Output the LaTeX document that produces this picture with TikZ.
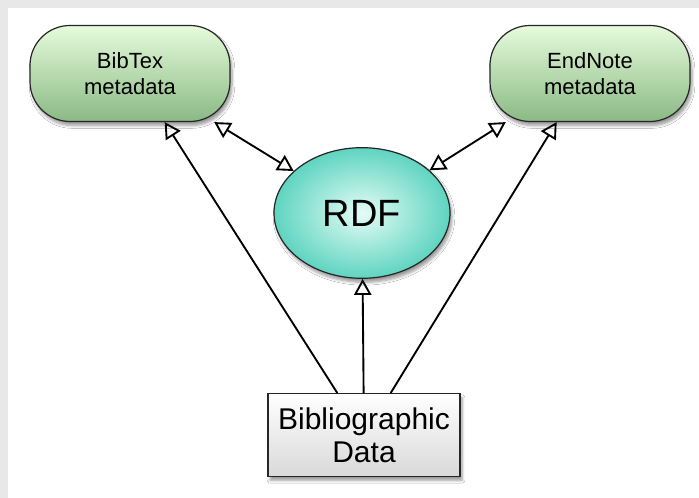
\documentclass[tikz,border=0pt]{standalone}
\usepackage{fontspec}
\setmainfont{Liberation Sans}
\usetikzlibrary{positioning, arrows.meta, shapes.geometric}
\usetikzlibrary{shadows.blur}

\definecolor{greentop}{RGB}{230,251,220}
\definecolor{greenmid}{RGB}{165,228,155}
\definecolor{greenbot}{RGB}{138,185,132}
\definecolor{tealin}{RGB}{228,252,246}
\definecolor{tealout}{RGB}{95,212,192}
\definecolor{framegray}{RGB}{232,232,232}

\begin{document}
\begin{tikzpicture}[
    x=0.75pt, y=0.75pt,
    every node/.style={align=center},
    meta/.style={rectangle, rounded corners=30pt, draw=black!85, line width=0.9pt,
        top color=greentop, middle color=greenmid, bottom color=greenbot,
        minimum width=150pt, minimum height=72pt, font=\fontsize{16.5}{19}\selectfont,
        blur shadow={shadow xshift=1.5pt, shadow yshift=-3pt, shadow blur steps=6}},
    store/.style={ellipse, draw=black!85, line width=0.9pt,
        inner color=tealin, outer color=tealout,
        minimum width=132pt, minimum height=98pt, font=\fontsize{28.5}{32}\selectfont,
        blur shadow={shadow xshift=1.5pt, shadow yshift=-3pt, shadow blur steps=6}},
    source/.style={rectangle, draw=black!85, line width=0.9pt,
        top color=white, bottom color=black!15,
        minimum width=144pt, minimum height=62pt, font=\fontsize{22.5}{24.5}\selectfont,
        blur shadow={shadow xshift=1.5pt, shadow yshift=-3pt, shadow blur steps=6}},
    arrow/.style={-{Triangle[open, length=12pt, width=13pt]}, line width=1.4pt},
    twoway/.style={{Triangle[open, length=12pt, width=13pt]}-{Triangle[open, length=12pt, width=13pt]}, line width=1.4pt}
]

% --- marco de fondo
\fill[framegray] (0,0) rectangle (699,498);
\fill[white] (8,0) rectangle (699,490);
\useasboundingbox (0,0) rectangle (699,498);

% --- nodos
\node[meta] (bibtex) at (130,424.5) {BibTex\\metadata};
\node[meta] (endnote) at (590,424.5) {EndNote\\metadata};
\node[store] (rdf) at (362,285) {RDF};
\node[source] (biblio) at (364,63) {Bibliographic\\Data};

% --- flechas
\draw[arrow] ([xshift=-20pt]biblio.north) -- ([xshift=26pt]bibtex.south);
\draw[arrow] ([xshift=20pt]biblio.north) -- ([xshift=-25pt]endnote.south);
\draw[arrow] (biblio) -- (rdf);
\draw[twoway] (bibtex.-30) -- (rdf);
\draw[twoway] (endnote.-150) -- (rdf);

\end{tikzpicture}
\end{document}
